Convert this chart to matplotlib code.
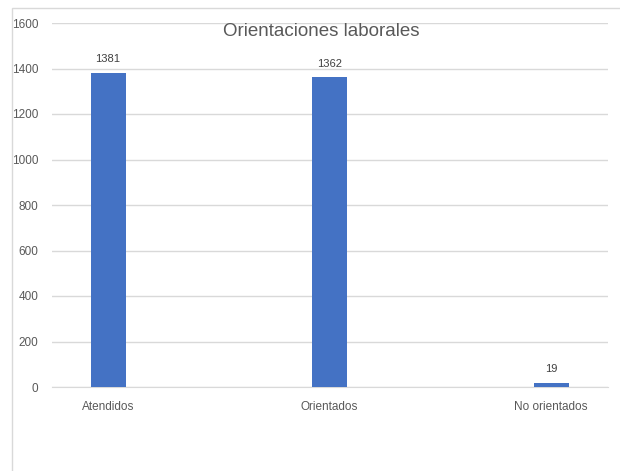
import matplotlib.pyplot as plt
from matplotlib.patches import Rectangle

# -------------------------
# DATA
# -------------------------
categorias = ["Atendidos", "Orientados", "No orientados"]
valores = [1381, 1362, 19]
yticks = [0, 200, 400, 600, 800, 1000, 1200, 1400, 1600]

W, H = 620, 471
bar_color = "#4472c4"
grid_color = "#d9d9d9"
text_color = "#595959"

plt.rcParams["font.family"] = ["Liberation Sans", "DejaVu Sans"]

fig = plt.figure(figsize=(W / 100, H / 100), dpi=100)
fig.patch.set_facecolor("white")

# chart border (only left and top are visible in the crop)
fig.add_artist(Rectangle((12 / W, -0.1), 1.2, 1.1 - 8 / H, transform=fig.transFigure,
                         fill=False, edgecolor=grid_color, linewidth=1))

ax = fig.add_axes([52 / W, 84 / H, 556 / W, 364 / H])

x = list(range(len(categorias)))
bars = ax.bar(x, valores, width=0.158, color=bar_color, zorder=3)

ax.set_xlim(-0.253, 2.257)
ax.set_ylim(0, 1600)
ax.set_yticks(yticks)
ax.set_xticks(x)
ax.set_xticklabels(categorias)

ax.yaxis.grid(True, color=grid_color, linewidth=1, zorder=0)
ax.set_axisbelow(True)
for s in ["top", "right", "left"]:
    ax.spines[s].set_visible(False)
ax.spines["bottom"].set_color(grid_color)
ax.tick_params(axis="both", length=0, colors=text_color, labelsize=8.5)
ax.tick_params(axis="y", pad=10)
ax.tick_params(axis="x", pad=10)

for b, v in zip(bars, valores):
    ax.annotate(str(v), (b.get_x() + b.get_width() / 2, v), xytext=(0, 6),
                textcoords="offset points", ha="center", va="bottom",
                fontsize=8, color="#404040")

fig.text(321 / W, 1 - 32 / H, "Orientaciones laborales", ha="center", va="center",
         fontsize=13.5, color=text_color)

plt.savefig("out.png", dpi=100)
